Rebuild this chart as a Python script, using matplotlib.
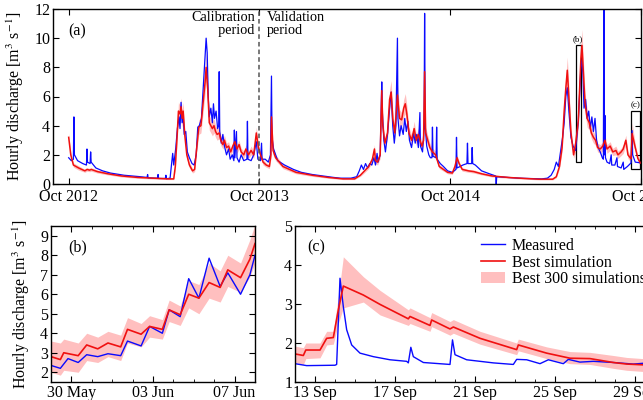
import pandas as pd
import matplotlib.pyplot as plt
import matplotlib.dates as mdates
from matplotlib.patches import Rectangle

plt.rcParams['font.family'] = ['Liberation Serif', 'DejaVu Serif']
plt.rcParams['mathtext.fontset'] = 'stix'
plt.rcParams['font.size'] = 11.5
plt.rcParams['xtick.direction'] = 'in'
plt.rcParams['ytick.direction'] = 'in'
plt.rcParams['xtick.top'] = True
plt.rcParams['ytick.right'] = True

# ---- (a) full record, measured ----
meas_dates = [
    '2012-10-01', '2012-10-06', '2012-10-10', '2012-10-11', '2012-10-12', '2012-10-18', '2012-10-28',
    '2012-11-04', '2012-11-05', '2012-11-06', '2012-11-11', '2012-11-12', '2012-11-13', '2012-11-22',
    '2012-12-05', '2012-12-20', '2013-01-15', '2013-02-15', '2013-02-28', '2013-03-01', '2013-03-02',
    '2013-03-20', '2013-03-21', '2013-03-22', '2013-04-04', '2013-04-05', '2013-04-06', '2013-04-13',
    '2013-04-16', '2013-04-18', '2013-04-20', '2013-04-24', '2013-04-27', '2013-04-30', '2013-05-02',
    '2013-05-04', '2013-05-06', '2013-05-08', '2013-05-10', '2013-05-13', '2013-05-16', '2013-05-20',
    '2013-05-25', '2013-05-29', '2013-06-02', '2013-06-05', '2013-06-08', '2013-06-12', '2013-06-16',
    '2013-06-19', '2013-06-21', '2013-06-23', '2013-06-25', '2013-06-27', '2013-06-30', '2013-07-03',
    '2013-07-05', '2013-07-07', '2013-07-10', '2013-07-13', '2013-07-15', '2013-07-16', '2013-07-17',
    '2013-07-20', '2013-07-23', '2013-07-26', '2013-07-30', '2013-08-03', '2013-08-06', '2013-08-10',
    '2013-08-13', '2013-08-14', '2013-08-15', '2013-08-18', '2013-08-19', '2013-08-23', '2013-08-27',
    '2013-09-01', '2013-09-07', '2013-09-08', '2013-09-09', '2013-09-15', '2013-09-20', '2013-09-25',
    '2013-09-28', '2013-10-03', '2013-10-05', '2013-10-06', '2013-10-12', '2013-10-18', '2013-10-22',
    '2013-10-24', '2013-10-25', '2013-10-28', '2013-11-05', '2013-11-18', '2013-12-05', '2013-12-20',
    '2014-01-10', '2014-01-30', '2014-02-20', '2014-03-05', '2014-03-25', '2014-04-05', '2014-04-10',
    '2014-04-14', '2014-04-18', '2014-04-22', '2014-04-26', '2014-04-30', '2014-05-04', '2014-05-08',
    '2014-05-11', '2014-05-14', '2014-05-16', '2014-05-20', '2014-05-23', '2014-05-24', '2014-05-27',
    '2014-05-30', '2014-06-03', '2014-06-07', '2014-06-10', '2014-06-13', '2014-06-16', '2014-06-19',
    '2014-06-22', '2014-06-23', '2014-06-26', '2014-06-29', '2014-07-03', '2014-07-06', '2014-07-09',
    '2014-07-12', '2014-07-15', '2014-07-19', '2014-07-23', '2014-07-26', '2014-07-29', '2014-08-01',
    '2014-08-04', '2014-08-05', '2014-08-09', '2014-08-12', '2014-08-13', '2014-08-14', '2014-08-17',
    '2014-08-21', '2014-08-24', '2014-08-27', '2014-08-28', '2014-08-29', '2014-09-04', '2014-09-05',
    '2014-09-06', '2014-09-12', '2014-09-18', '2014-09-26', '2014-10-05', '2014-10-12', '2014-10-13',
    '2014-10-14', '2014-10-20', '2014-10-25', '2014-11-02', '2014-11-03', '2014-11-04', '2014-11-11',
    '2014-11-12', '2014-11-13', '2014-11-18', '2014-11-30', '2014-12-15', '2014-12-27', '2014-12-28',
    '2014-12-29', '2015-01-20', '2015-02-10', '2015-03-01', '2015-03-25', '2015-04-05', '2015-04-12',
    '2015-04-18', '2015-04-22', '2015-04-26', '2015-04-30', '2015-05-04', '2015-05-07', '2015-05-10',
    '2015-05-13', '2015-05-16', '2015-05-20', '2015-05-24', '2015-05-29', '2015-06-03', '2015-06-08',
    '2015-06-10', '2015-06-12', '2015-06-14', '2015-06-17', '2015-06-20', '2015-06-23', '2015-06-26',
    '2015-06-29', '2015-07-02', '2015-07-05', '2015-07-08', '2015-07-11', '2015-07-15', '2015-07-19',
    '2015-07-21', '2015-07-22', '2015-07-23', '2015-07-24', '2015-07-25', '2015-07-28', '2015-08-02',
    '2015-08-05', '2015-08-06', '2015-08-12', '2015-08-16', '2015-08-17', '2015-08-24', '2015-08-28',
    '2015-08-29', '2015-09-05', '2015-09-12', '2015-09-14', '2015-09-15', '2015-09-20', '2015-09-30',
]
meas_vals = [
    1.8, 1.6, 1.7, 4.6, 2.0, 1.6, 1.4,
    1.3, 2.4, 1.5, 1.4, 2.2, 1.5, 1.1,
    0.9, 0.75, 0.6, 0.5, 0.45, 0.65, 0.42,
    0.4, 0.65, 0.38, 0.38, 0.6, 0.36, 0.4,
    1.4, 2.1, 1.3, 2.5, 3.8, 4.6, 3.8,
    5.6, 4.2, 4.7, 3.4, 3.6, 2.2, 1.8,
    1.4, 1.3, 2.0, 3.9, 4.0, 4.5, 7.0,
    8.8, 10.0, 9.0, 6.0, 4.6, 5.2, 4.2,
    5.5, 4.5, 5.0, 3.8, 4.0, 7.7, 3.6,
    2.8, 3.4, 2.6, 2.0, 2.4, 1.7, 2.0,
    1.6, 3.7, 1.8, 3.6, 1.8, 1.5, 2.0,
    1.6, 1.7, 4.3, 1.7, 1.6, 2.0, 2.9,
    1.7, 1.6, 2.8, 1.7, 1.7, 1.5, 2.0,
    7.4, 3.2, 2.4, 1.6, 1.3, 1.0, 0.8,
    0.65, 0.55, 0.45, 0.4, 0.4, 0.5, 0.9,
    1.3, 1.0, 1.4, 1.1, 1.4, 1.3, 1.8,
    1.3, 2.1, 1.5, 2.0, 7.0, 5.0, 3.0,
    2.2, 3.4, 5.2, 6.3, 4.0, 2.8, 4.0,
    10.0, 4.5, 3.3, 4.0, 3.4, 4.5, 3.6,
    4.3, 3.0, 2.5, 3.5, 2.8, 3.4, 2.5,
    4.9, 2.6, 2.2, 3.8, 11.7, 4.0, 2.6,
    2.0, 1.8, 1.8, 3.9, 1.9, 1.8, 3.9,
    1.7, 1.4, 1.2, 0.9, 0.8, 1.0, 3.2,
    1.1, 1.2, 1.3, 1.4, 2.8, 1.4, 1.4,
    2.5, 1.4, 1.3, 0.9, 0.7, 0.55, 0.0,
    0.5, 0.45, 0.4, 0.38, 0.35, 0.4, 0.6,
    1.0, 1.5, 1.2, 2.2, 3.2, 4.2, 6.0,
    6.6, 5.0, 3.2, 2.6, 2.3, 4.3, 8.0,
    8.5, 7.5, 5.2, 5.8, 4.5, 5.0, 3.8,
    4.6, 3.6, 4.5, 3.0, 2.5, 2.2, 1.8,
    1.7, 13.0, 2.0, 4.7, 1.8, 1.5, 1.4,
    2.0, 1.3, 1.3, 1.8, 1.2, 1.1, 1.5,
    1.0, 1.2, 1.45, 3.66, 2.0, 1.5, 1.45,
]

# ---- (a) full record, best simulation and range of best 300 ----
sim_dates = [
    '2012-10-01', '2012-10-05', '2012-10-10', '2012-10-20', '2012-11-01', '2012-11-05', '2012-11-10',
    '2012-11-13', '2012-11-25', '2012-12-15', '2013-01-10', '2013-02-10', '2013-03-10', '2013-04-10',
    '2013-04-20', '2013-04-23', '2013-04-26', '2013-04-29', '2013-05-02', '2013-05-04', '2013-05-06',
    '2013-05-08', '2013-05-11', '2013-05-15', '2013-05-20', '2013-05-26', '2013-05-30', '2013-06-03',
    '2013-06-07', '2013-06-11', '2013-06-15', '2013-06-19', '2013-06-21', '2013-06-24', '2013-06-27',
    '2013-06-30', '2013-07-03', '2013-07-06', '2013-07-09', '2013-07-12', '2013-07-16', '2013-07-19',
    '2013-07-23', '2013-07-26', '2013-07-30', '2013-08-03', '2013-08-07', '2013-08-11', '2013-08-15',
    '2013-08-19', '2013-08-23', '2013-08-27', '2013-09-01', '2013-09-05', '2013-09-10', '2013-09-15',
    '2013-09-20', '2013-09-25', '2013-09-29', '2013-10-03', '2013-10-08', '2013-10-14', '2013-10-20',
    '2013-10-23', '2013-10-24', '2013-10-27', '2013-11-01', '2013-11-15', '2013-12-10', '2014-01-10',
    '2014-02-10', '2014-03-10', '2014-04-01', '2014-04-12', '2014-04-20', '2014-04-28', '2014-05-05',
    '2014-05-09', '2014-05-11', '2014-05-15', '2014-05-20', '2014-05-23', '2014-05-25', '2014-05-29',
    '2014-06-03', '2014-06-07', '2014-06-10', '2014-06-13', '2014-06-17', '2014-06-20', '2014-06-22',
    '2014-06-26', '2014-06-30', '2014-07-04', '2014-07-07', '2014-07-10', '2014-07-14', '2014-07-19',
    '2014-07-24', '2014-07-28', '2014-08-01', '2014-08-04', '2014-08-08', '2014-08-11', '2014-08-13',
    '2014-08-15', '2014-08-19', '2014-08-23', '2014-08-28', '2014-09-03', '2014-09-10', '2014-09-18',
    '2014-09-26', '2014-10-05', '2014-10-10', '2014-10-14', '2014-10-18', '2014-10-24', '2014-11-05',
    '2014-11-15', '2014-11-30', '2014-12-20', '2015-01-20', '2015-02-20', '2015-03-20', '2015-04-15',
    '2015-04-22', '2015-04-28', '2015-05-03', '2015-05-07', '2015-05-10', '2015-05-13', '2015-05-16',
    '2015-05-20', '2015-05-25', '2015-05-29', '2015-06-03', '2015-06-08', '2015-06-10', '2015-06-13',
    '2015-06-16', '2015-06-20', '2015-06-24', '2015-06-28', '2015-07-02', '2015-07-06', '2015-07-10',
    '2015-07-15', '2015-07-20', '2015-07-24', '2015-07-28', '2015-08-03', '2015-08-08', '2015-08-14',
    '2015-08-18', '2015-08-24', '2015-08-28', '2015-09-02', '2015-09-06', '2015-09-12', '2015-09-14',
    '2015-09-20', '2015-09-25', '2015-09-30',
]
sim_vals = [
    3.2, 2.0, 1.3, 1.1, 0.9, 1.0, 0.95,
    1.0, 0.85, 0.7, 0.55, 0.45, 0.4, 0.35,
    0.35, 1.2, 3.0, 5.0, 4.8, 5.3, 4.5,
    5.0, 3.4, 2.0, 1.3, 0.9, 1.0, 2.5,
    3.9, 4.0, 5.5, 7.0, 8.0, 6.5, 4.2,
    4.0, 3.8, 4.0, 3.6, 3.4, 3.5, 3.0,
    2.7, 3.0, 2.5, 2.6, 2.2, 2.6, 2.9,
    2.4, 2.7, 2.2, 2.0, 2.4, 2.0, 2.3,
    2.0, 3.5, 2.5, 2.0, 1.5, 1.3, 1.2,
    2.0, 4.6, 2.3, 1.8, 1.2, 0.8, 0.6,
    0.45, 0.35, 0.35, 0.6, 0.9, 1.2, 1.7,
    2.4, 1.6, 1.5, 2.0, 6.4, 4.0, 2.8,
    3.5, 5.8, 6.3, 4.5, 3.5, 5.0, 6.1,
    4.5, 4.4, 5.2, 5.5, 4.8, 3.5, 3.0,
    3.8, 3.0, 3.4, 3.0, 2.6, 3.0, 7.7,
    3.5, 3.0, 2.5, 2.2, 2.0, 1.2, 1.0,
    0.8, 0.75, 1.2, 1.8, 1.4, 1.0, 0.9,
    0.85, 0.7, 0.55, 0.45, 0.38, 0.33, 0.33,
    0.5, 1.2, 2.5, 5.0, 6.5, 7.8, 6.0,
    3.5, 2.0, 2.8, 4.3, 8.6, 9.5, 7.5,
    5.5, 4.5, 4.2, 3.5, 3.2, 3.0, 2.5,
    2.4, 2.6, 3.0, 2.4, 2.6, 2.2, 2.3,
    2.0, 2.2, 2.4, 3.0, 2.0, 1.72, 3.46,
    2.5, 1.75, 1.44,
]
sim_lo = [
    2.9, 1.8, 1.15, 0.95, 0.8, 0.88, 0.84,
    0.88, 0.75, 0.62, 0.48, 0.39, 0.34, 0.3,
    0.3, 1.0, 2.6, 4.4, 4.2, 4.6, 3.9,
    4.4, 3.0, 1.75, 1.1, 0.75, 0.85, 2.2,
    3.4, 3.5, 4.8, 6.2, 7.1, 5.7, 3.7,
    3.5, 3.3, 3.5, 3.2, 3.0, 3.1, 2.65,
    2.4, 2.65, 2.2, 2.3, 1.95, 2.3, 2.55,
    2.1, 2.4, 1.95, 1.75, 2.1, 1.75, 2.0,
    1.75, 3.1, 2.2, 1.75, 1.3, 1.15, 1.05,
    1.75, 4.0, 2.0, 1.6, 1.05, 0.7, 0.52,
    0.39, 0.3, 0.3, 0.52, 0.78, 1.05, 1.5,
    2.1, 1.4, 1.3, 1.75, 5.6, 3.5, 2.45,
    3.1, 5.1, 5.5, 3.9, 3.1, 4.4, 5.3,
    3.9, 3.9, 4.6, 4.8, 4.2, 3.1, 2.65,
    3.3, 2.65, 3.0, 2.65, 2.3, 2.65, 6.8,
    3.1, 2.65, 2.2, 1.95, 1.75, 1.05, 0.88,
    0.7, 0.66, 1.05, 1.6, 1.25, 0.88, 0.8,
    0.75, 0.62, 0.48, 0.39, 0.33, 0.28, 0.28,
    0.43, 1.05, 2.2, 4.4, 5.7, 6.9, 5.3,
    3.1, 1.75, 2.2, 3.8, 7.6, 8.4, 6.6,
    4.8, 3.9, 3.7, 3.1, 2.8, 2.65, 2.2,
    2.1, 2.3, 2.65, 2.1, 2.3, 1.95, 2.0,
    1.75, 1.95, 2.1, 2.65, 1.75, 1.47, 2.9,
    2.25, 1.55, 1.26,
]
sim_hi = [
    3.5, 2.2, 1.45, 1.25, 1.0, 1.12, 1.07,
    1.12, 0.96, 0.8, 0.63, 0.52, 0.47, 0.42,
    0.42, 1.4, 3.4, 5.6, 5.4, 5.9, 5.1,
    5.6, 3.8, 2.25, 1.5, 1.05, 1.15, 2.8,
    4.4, 4.5, 6.2, 7.9, 9.0, 7.3, 4.7,
    4.5, 4.3, 4.5, 4.0, 3.8, 3.9, 3.35,
    3.0, 3.35, 2.8, 2.9, 2.45, 2.9, 3.25,
    2.7, 3.0, 2.45, 2.25, 2.7, 2.25, 2.6,
    2.25, 3.9, 2.8, 2.25, 1.7, 1.45, 1.35,
    2.25, 5.2, 2.6, 2.0, 1.35, 0.9, 0.68,
    0.52, 0.42, 0.42, 0.68, 1.02, 1.35, 1.9,
    2.7, 1.8, 1.7, 2.25, 7.2, 4.5, 3.15,
    3.9, 6.5, 7.1, 5.1, 3.9, 5.6, 6.9,
    5.1, 4.9, 5.8, 6.2, 5.4, 3.9, 3.35,
    4.3, 3.35, 3.8, 3.35, 2.9, 3.35, 8.6,
    3.9, 3.35, 2.8, 2.45, 2.25, 1.35, 1.12,
    0.9, 0.85, 1.35, 2.0, 1.55, 1.12, 1.0,
    0.96, 0.8, 0.63, 0.52, 0.44, 0.4, 0.4,
    0.58, 1.35, 2.8, 5.6, 7.3, 8.7, 6.7,
    3.9, 2.25, 3.4, 4.8, 9.6, 10.6, 8.4,
    6.2, 5.1, 4.7, 3.9, 3.6, 3.35, 2.8,
    2.7, 2.9, 3.35, 2.7, 2.9, 2.45, 2.6,
    2.25, 2.45, 2.7, 3.35, 2.25, 1.9, 4.2,
    2.75, 1.95, 1.6,
]

# ---- (b) zoom on snowmelt rise ----
b_meas_times = [
    '2015-05-29 00:00', '2015-05-29 11:00', '2015-05-29 20:00', '2015-05-30 08:00', '2015-05-30 18:00',
    '2015-05-31 07:00', '2015-05-31 19:00', '2015-06-01 10:00', '2015-06-01 18:00', '2015-06-02 10:00',
    '2015-06-02 20:00', '2015-06-03 11:00', '2015-06-03 19:00', '2015-06-04 08:00', '2015-06-04 18:00',
    '2015-06-05 06:00', '2015-06-05 18:00', '2015-06-06 07:00', '2015-06-06 16:00', '2015-06-07 07:00',
    '2015-06-07 18:00', '2015-06-08 00:00',
]
b_meas = [2.35, 2.2, 2.7, 2.5, 2.9, 2.8, 2.95, 2.85, 3.6, 3.35, 4.35,
          4.0, 5.2, 4.85, 6.8, 5.8, 7.85, 6.4, 7.1, 6.0, 7.0, 8.0]
b_sim_times = [
    '2015-05-29 00:00', '2015-05-29 11:00', '2015-05-29 15:00', '2015-05-30 08:00', '2015-05-30 18:00',
    '2015-05-31 07:00', '2015-05-31 19:00', '2015-06-01 10:00', '2015-06-01 18:00', '2015-06-02 10:00',
    '2015-06-02 20:00', '2015-06-03 11:00', '2015-06-03 19:00', '2015-06-04 08:00', '2015-06-04 18:00',
    '2015-06-05 06:00', '2015-06-05 18:00', '2015-06-06 07:00', '2015-06-06 16:00', '2015-06-07 07:00',
    '2015-06-07 18:00', '2015-06-08 00:00',
]
b_sim = [2.8, 2.65, 3.0, 2.85, 3.4, 3.2, 3.5, 3.3, 4.2, 3.95, 4.35,
         4.2, 5.2, 4.95, 6.0, 5.8, 6.6, 6.35, 7.25, 6.85, 7.8, 8.6]
b_lo = [2.0, 1.85, 2.1, 2.0, 2.6, 2.5, 2.8, 2.6, 3.5, 3.3, 3.8,
        3.7, 4.6, 4.4, 5.3, 5.0, 5.8, 5.6, 6.4, 6.1, 6.9, 7.6]
b_hi = [3.6, 3.5, 3.7, 3.5, 4.0, 3.8, 4.1, 3.9, 4.8, 4.5, 4.9,
        4.7, 5.7, 5.4, 6.7, 6.5, 7.6, 7.2, 8.0, 7.6, 8.8, 9.6]

# ---- (c) zoom on September recession ----
c_meas_times = [
    '2015-09-12 00:00', '2015-09-12 14:00', '2015-09-14 00:00', '2015-09-14 02:00', '2015-09-14 06:00',
    '2015-09-14 10:00', '2015-09-14 14:00', '2015-09-14 20:00', '2015-09-15 06:00', '2015-09-15 22:00',
    '2015-09-16 18:00', '2015-09-17 14:00', '2015-09-17 16:00', '2015-09-17 19:00', '2015-09-17 22:00',
    '2015-09-18 10:00', '2015-09-19 18:00', '2015-09-19 21:00', '2015-09-20 00:00', '2015-09-20 14:00',
    '2015-09-21 22:00', '2015-09-22 22:00', '2015-09-23 02:00', '2015-09-23 14:00', '2015-09-24 06:00',
    '2015-09-24 16:00', '2015-09-25 10:00', '2015-09-25 16:00', '2015-09-26 06:00', '2015-09-26 22:00',
    '2015-09-27 22:00', '2015-09-28 22:00', '2015-09-29 10:00', '2015-09-30 00:00',
]
c_meas = [1.47, 1.42, 1.43, 1.45, 3.66, 2.93, 2.34, 1.95, 1.74, 1.65,
          1.57, 1.53, 1.49, 1.89, 1.65, 1.5, 1.45, 2.08, 1.70, 1.57,
          1.49, 1.45, 1.58, 1.57, 1.47, 1.57, 1.47, 1.58, 1.51, 1.53,
          1.50, 1.46, 1.48, 1.45]
c_sim_times = [
    '2015-09-12 00:00', '2015-09-12 10:00', '2015-09-12 13:00', '2015-09-13 06:00', '2015-09-13 14:00',
    '2015-09-13 22:00', '2015-09-14 04:00', '2015-09-14 10:00', '2015-09-15 10:00', '2015-09-16 06:00',
    '2015-09-17 16:00', '2015-09-17 18:00', '2015-09-18 18:00', '2015-09-18 20:00', '2015-09-19 18:00',
    '2015-09-19 22:00', '2015-09-21 06:00', '2015-09-23 02:00', '2015-09-23 04:00', '2015-09-24 14:00',
    '2015-09-25 18:00', '2015-09-26 18:00', '2015-09-27 22:00', '2015-09-28 14:00', '2015-09-29 10:00',
    '2015-09-30 00:00',
]
c_sim = [1.72, 1.68, 1.82, 1.82, 2.12, 2.14, 2.85, 3.46, 3.23, 2.99,
         2.62, 2.68, 2.45, 2.59, 2.36, 2.41, 2.12, 1.83, 1.95, 1.74,
         1.61, 1.6, 1.50, 1.46, 1.44, 1.42]
c_lo = [1.5, 1.45, 1.6, 1.62, 1.95, 1.97, 2.5, 2.9, 3.05, 2.72,
        2.45, 2.5, 2.3, 2.42, 2.2, 2.25, 1.97, 1.7, 1.8, 1.6,
        1.47, 1.45, 1.35, 1.3, 1.27, 1.25]
c_hi = [1.92, 1.88, 2.0, 2.0, 2.3, 2.3, 3.2, 4.21, 3.7, 3.35,
        2.85, 2.9, 2.65, 2.78, 2.55, 2.6, 2.3, 2.0, 2.1, 1.9,
        1.78, 1.76, 1.68, 1.63, 1.6, 1.58]

meas_dates = pd.to_datetime(meas_dates)
sim_dates = pd.to_datetime(sim_dates)
b_meas_times = pd.to_datetime(b_meas_times)
b_sim_times = pd.to_datetime(b_sim_times)
c_meas_times = pd.to_datetime(c_meas_times)
c_sim_times = pd.to_datetime(c_sim_times)

blue = '#0a0aff'
red = '#f01010'
band = '#ff8080'

b_xlim = (pd.Timestamp('2015-05-29'), pd.Timestamp('2015-06-08'))
b_ylim = (1.5, 9.5)
c_xlim = (pd.Timestamp('2015-09-12'), pd.Timestamp('2015-09-30'))
c_ylim = (1, 5)

W, H = 643, 400
fig = plt.figure(figsize=(W / 100, H / 100), dpi=100)


def px_axes(l, t, r, b):
    return fig.add_axes([l / W, 1 - b / H, (r - l) / W, (b - t) / H])


ylab = 'Hourly discharge [m$^3$ s$^{-1}$]'

# (a)
ax = px_axes(53, 9, 641, 184)
ax.fill_between(sim_dates, sim_lo, sim_hi, color=band, alpha=0.5, lw=0)
ax.plot(meas_dates, meas_vals, color=blue, lw=0.9)
ax.plot(sim_dates, sim_vals, color=red, lw=1.1)
ax.axvline(pd.Timestamp('2013-10-01'), color='#555555', ls=(0, (3, 2)), lw=1.1)
ax.set_xlim(pd.Timestamp('2012-09-01'), pd.Timestamp('2015-10-01'))
ax.set_ylim(0, 12)
ax.set_yticks(range(0, 13, 2))
ax.xaxis.set_major_locator(mdates.MonthLocator(bymonth=10))
ax.xaxis.set_major_formatter(mdates.DateFormatter('%b %Y'))
ax.set_ylabel(ylab, labelpad=6)
ax.text(0.026, 0.87, '(a)', transform=ax.transAxes, va='center')
ax.text(pd.Timestamp('2013-09-22'), 11.85, 'Calibration\n  period', ha='right', va='top',
        linespacing=0.95, fontsize=10.3)
ax.text(pd.Timestamp('2013-10-16'), 11.85, 'Validation\nperiod', ha='left', va='top',
        linespacing=0.95, fontsize=10.3)
for xl, yl, tag in [(b_xlim, b_ylim, '(b)'), (c_xlim, c_ylim, '(c)')]:
    x0 = mdates.date2num(xl[0])
    x1 = mdates.date2num(xl[1])
    ax.add_patch(Rectangle((x0, yl[0]), x1 - x0, yl[1] - yl[0], fill=False, ec='black', lw=0.9))
    ax.text((x0 + x1) / 2, yl[1] + 0.15, tag, ha='center', va='bottom', fontsize=6.5)

# (b)
axb = px_axes(51, 226, 255, 382)
axb.fill_between(b_sim_times, b_lo, b_hi, color=band, alpha=0.5, lw=0)
axb.plot(b_meas_times, b_meas, color=blue, lw=1.0)
axb.plot(b_sim_times, b_sim, color=red, lw=1.2)
axb.set_xlim(*b_xlim)
axb.set_ylim(*b_ylim)
axb.set_yticks(range(2, 10))
axb.xaxis.set_major_locator(mdates.DayLocator(bymonthday=[30, 3, 7]))
axb.xaxis.set_minor_locator(mdates.DayLocator())
axb.xaxis.set_major_formatter(mdates.DateFormatter('%d %b'))
axb.set_ylabel(ylab, labelpad=6)
axb.text(0.083, 0.86, '(b)', transform=axb.transAxes, va='center')

# (c)
axc = px_axes(295, 226, 655, 382)
axc.fill_between(c_sim_times, c_lo, c_hi, color=band, alpha=0.5, lw=0,
                 label='Best 300 simulations')
axc.plot(c_meas_times, c_meas, color=blue, lw=1.0, label='Measured')
axc.plot(c_sim_times, c_sim, color=red, lw=1.2, label='Best simulation')
axc.set_xlim(*c_xlim)
axc.set_ylim(*c_ylim)
axc.set_yticks(range(1, 6))
axc.xaxis.set_major_locator(mdates.DayLocator(bymonthday=[13, 17, 21, 25, 29]))
axc.xaxis.set_minor_locator(mdates.DayLocator())
axc.xaxis.set_major_formatter(mdates.DateFormatter('%d %b'))
axc.text(0.033, 0.865, '(c)', transform=axc.transAxes, va='center')
h, l = axc.get_legend_handles_labels()
axc.legend([h[1], h[2], h[0]], [l[1], l[2], l[0]], loc='upper left',
           bbox_to_anchor=(0.5, 0.965), frameon=False, handlelength=1.5,
           handletextpad=0.4, labelspacing=0.05, borderaxespad=0)

for a in (ax, axb, axc):
    a.tick_params(which='major', length=4, width=0.8, pad=2)
    a.tick_params(which='minor', length=2, width=0.6)
    for s in a.spines.values():
        s.set_linewidth(1.0)
ax.tick_params(axis='x', which='major', pad=3.5)

fig.savefig('out.png', dpi=100)
